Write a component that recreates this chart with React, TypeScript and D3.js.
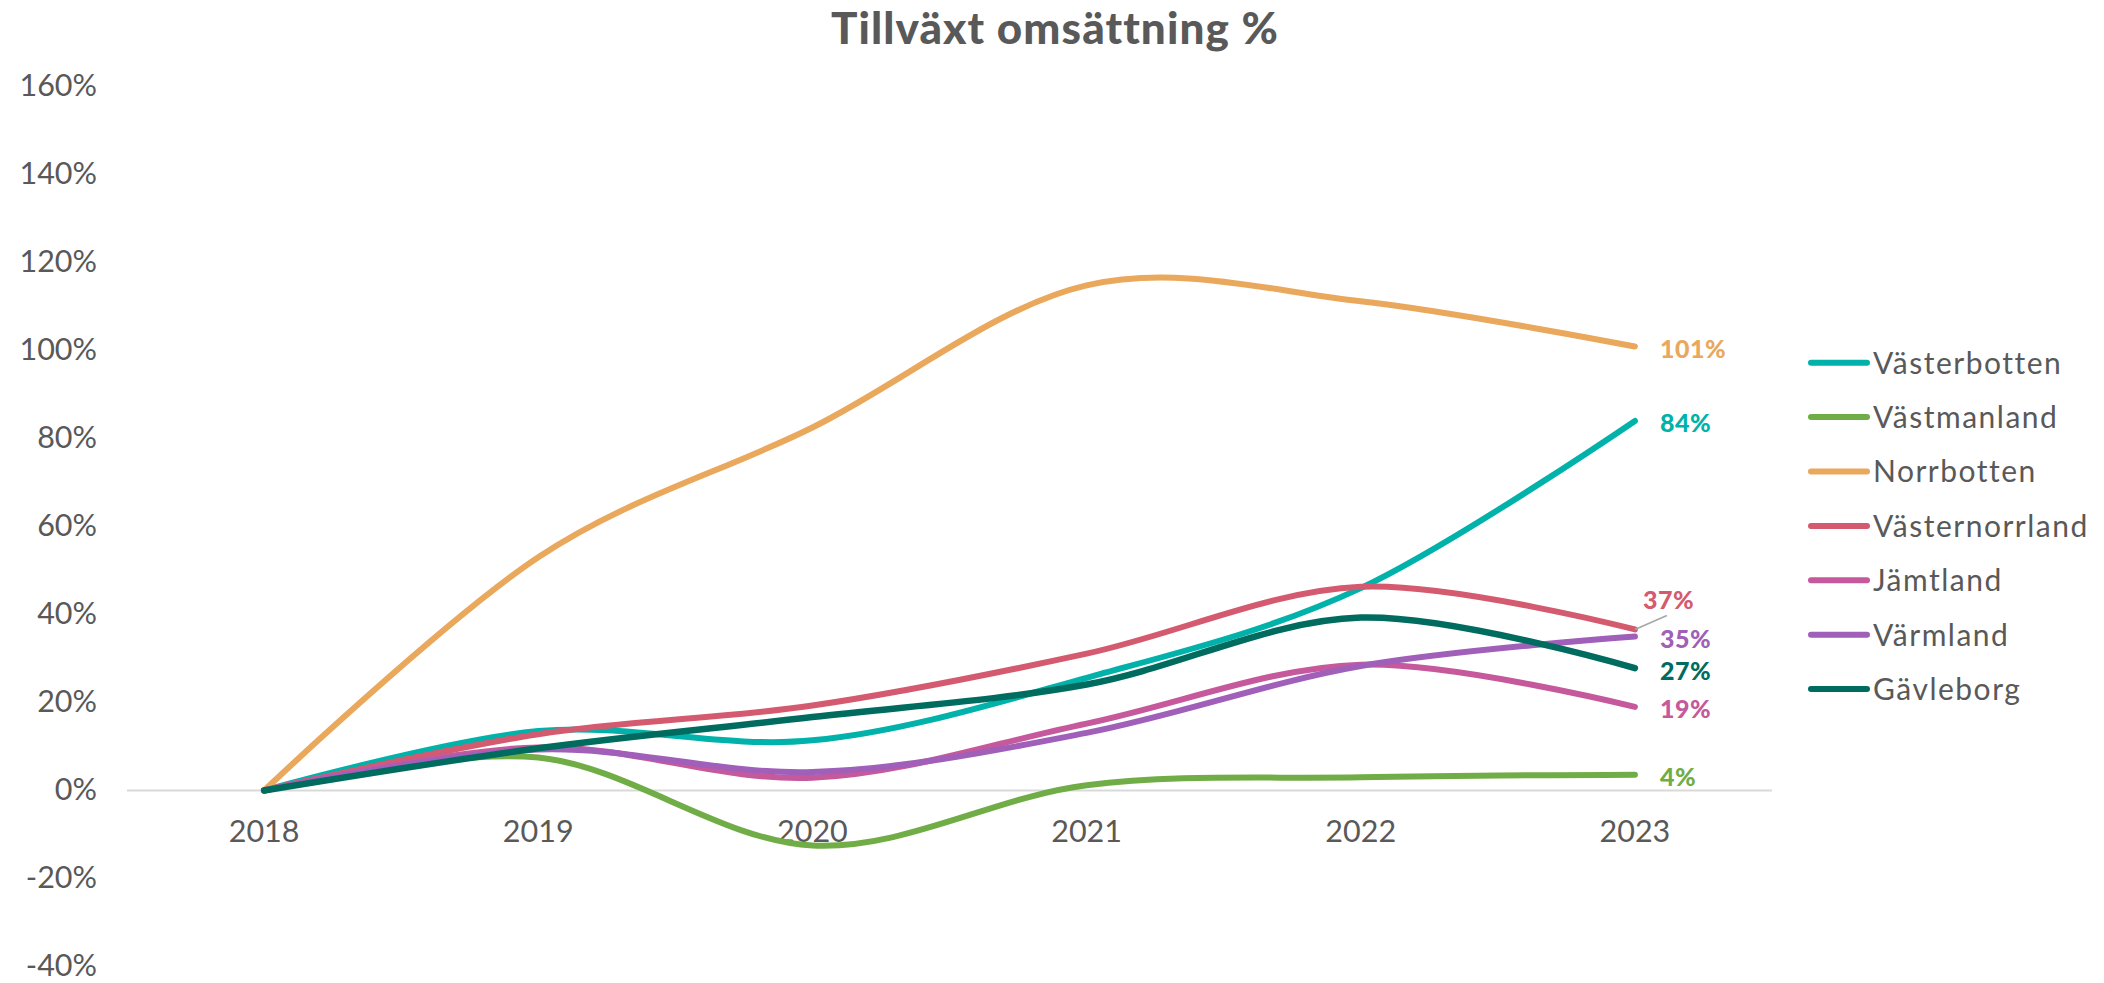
import React from "react";
import * as d3 from "d3";

const years = ["2018", "2019", "2020", "2021", "2022", "2023"];
const seriesNames = ["Västerbotten", "Västmanland", "Norrbotten", "Västernorrland", "Jämtland", "Värmland", "Gävleborg"];
const vasterbotten = [0, 13.5, 11.4, 25.6, 46, 84];
const vastmanland = [0, 7.5, -12.5, 1.2, 3.0, 3.6];
const norrbotten = [0, 53, 82.5, 114.8, 111.2, 100.9];
const vasternorrland = [0, 12.8, 19.3, 31.1, 46.3, 36.6];
const jamtland = [0, 9.8, 2.9, 15.2, 28.6, 19];
const varmland = [0, 9.3, 4.2, 13.1, 28.3, 35];
const gavleborg = [0, 9.6, 16.7, 24.1, 39.3, 27.8];
const endLabels = ["84%", "4%", "101%", "37%", "19%", "35%", "27%"];
const yTicks = [-40, -20, 0, 20, 40, 60, 80, 100, 120, 140, 160];
const colors = ["#00b2a9", "#70ad47", "#e9a85c", "#d45a70", "#c6589c", "#a05fb8", "#006b5f"];
const title = "Tillväxt omsättning %";

const allSeries = [vasterbotten, vastmanland, norrbotten, vasternorrland, jamtland, varmland, gavleborg];

const W = 2104;
const H = 983;
const FONT = "Lato, 'Noto Sans', sans-serif";
const GRAY = "#595959";

export default function App() {
  const x = d3.scaleBand<string>().domain(years).range([127, 1772]).padding(0);
  const cx = (yr: string) => (x(yr) as number) + x.bandwidth() / 2;
  const y = d3.scaleLinear().domain([-40, 160]).range([966.5, 86.5]);

  const line = d3
    .line<number>()
    .x((_, i) => cx(years[i]))
    .y((v) => y(v))
    .curve(d3.curveCardinal.tension(0));

  const lastX = cx(years[years.length - 1]);

  return (
    <svg width={W} height={H} style={{ position: "absolute", left: 0, top: 0, background: "#fff" }} fontFamily={FONT}>
      <text x={1055} y={44} textAnchor="middle" fontSize={44} fontWeight={900} letterSpacing={1.1} fill={GRAY}>
        {title}
      </text>

      {yTicks.map((t) => (
        <text key={t} x={97} y={y(t)} dy="0.32em" textAnchor="end" fontSize={30.5} fill={GRAY}>
          {`${t}%`}
        </text>
      ))}

      <line x1={127} x2={1772} y1={y(0)} y2={y(0)} stroke="#d9d9d9" strokeWidth={2} />

      {years.map((yr) => (
        <text key={yr} x={cx(yr)} y={832} dy="0.34em" textAnchor="middle" fontSize={30.5} fill={GRAY}>
          {yr}
        </text>
      ))}

      {allSeries.map((s, i) => (
        <path
          key={seriesNames[i]}
          d={line(s) as string}
          fill="none"
          stroke={colors[i]}
          strokeWidth={i === 6 ? 6.5 : 6}
          strokeLinecap="round"
          strokeLinejoin="round"
        />
      ))}

      {allSeries.map((s, i) => {
        const v = s[s.length - 1];
        const py = y(v);
        if (seriesNames[i] === "Västernorrland") {
          return (
            <g key={"l" + i}>
              <line x1={lastX} y1={py} x2={lastX + 32} y2={py - 14} stroke="#a6a6a6" strokeWidth={1.5} />
              <text x={lastX + 8} y={py - 29} dy="0.36em" fontSize={25} fontWeight={900} letterSpacing={0.5} fill={colors[i]}>
                {endLabels[i]}
              </text>
            </g>
          );
        }
        return (
          <text key={"l" + i} x={lastX + 25} y={py + 2.5} dy="0.36em" fontSize={25} fontWeight={900} letterSpacing={0.5} fill={colors[i]}>
            {endLabels[i]}
          </text>
        );
      })}

      {seriesNames.map((n, i) => {
        const ly = 362.7 + i * 54.4;
        return (
          <g key={"lg" + n}>
            <line x1={1811} x2={1867} y1={ly} y2={ly} stroke={colors[i]} strokeWidth={6} strokeLinecap="round" />
            <text x={1873} y={ly} dy="0.36em" fontSize={30} letterSpacing={1.5} fill={GRAY}>
              {n}
            </text>
          </g>
        );
      })}
    </svg>
  );
}
